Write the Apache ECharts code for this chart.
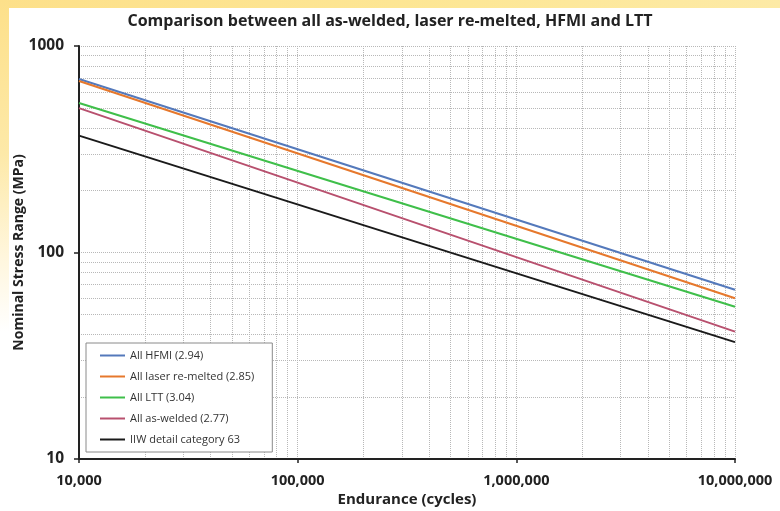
<!DOCTYPE html>
<html><head><meta charset="utf-8">
<script src="https://cdn.jsdelivr.net/npm/echarts@6/dist/echarts.min.js"></script>
<style>
html,body{margin:0;padding:0;background:#fff;}
#wrap{position:relative;width:780px;height:511px;overflow:hidden;background:#fff;}
#topband{position:absolute;left:0;top:0;width:780px;height:8px;background:linear-gradient(to right,#fde08a,#fde796 60%,#fdeaa6);}
#leftband{position:absolute;left:0;top:0;width:9px;height:511px;background:linear-gradient(to bottom,#fde08a 0%,#fde9a8 30%,#fff6dc 50%,#ffffff 65%);}
#chart{position:absolute;left:0;top:0;width:780px;height:511px;}
</style></head>
<body><div id="wrap"><div id="topband"></div><div id="leftband"></div><div id="chart"></div></div>
<script>
const titleText = 'Comparison between all as-welded, laser re-melted, HFMI and LTT';
const seriesNames = ['All HFMI (2.94)', 'All laser re-melted (2.85)', 'All LTT (3.04)', 'All as-welded (2.77)', 'IIW detail category 63'];
const endurance = [10000, 10000000];
const hfmi = [692, 66];
const laserRemelted = [677, 60];
const ltt = [530, 54.6];
const asWelded = [500, 41.4];
const iiw63 = [368, 36.8];
const colors = ['#5479bb', '#e6782c', '#3fbf4a', '#b8506e', '#1a1a1a'];

const seriesValues = [hfmi, laserRemelted, ltt, asWelded, iiw63];
const chart = echarts.init(document.getElementById('chart'), null, {renderer: 'canvas'});
const fontFam = '"Open Sans", "Liberation Sans", sans-serif';
const gridLine = {show: true, lineStyle: {color: '#b8b8b8', type: 'dotted', width: 1}};
chart.setOption({
  backgroundColor: 'transparent',
  animation: false,
  title: {text: titleText, left: 'center', top: 8,
    textStyle: {fontFamily: fontFam, fontSize: 16, fontWeight: 'bold', color: '#222'}},
  grid: {left: 79, right: 45, top: 46, bottom: 52, containLabel: false, outerBoundsMode: 'none'},
  legend: {
    orient: 'vertical', left: 86, top: 343,
    data: seriesNames,
    icon: 'rect', itemWidth: 25, itemHeight: 2, itemGap: 10,
    padding: [7, 18, 7, 14],
    backgroundColor: '#fff', borderColor: '#8a8a8a', borderWidth: 1,
    textStyle: {fontFamily: fontFam, fontSize: 11, color: '#333'}
  },
  xAxis: {
    type: 'log', logBase: 10, min: 10000, max: 10000000,
    name: 'Endurance (cycles)', nameLocation: 'middle', nameGap: 33, nameMoveOverlap: false,
    nameTextStyle: {fontFamily: fontFam, fontSize: 15, fontWeight: 'bold', color: '#222'},
    axisLine: {show: true, onZero: false, lineStyle: {color: '#222', width: 2}},
    axisTick: {show: true, length: 4, lineStyle: {color: '#222', width: 1.5}},
    axisLabel: {fontFamily: fontFam, fontSize: 14.5, fontWeight: 'bold', color: '#222', margin: 14,
      formatter: v => Math.round(v).toLocaleString('en-US')},
    splitLine: gridLine,
    minorTick: {show: false, splitNumber: 9},
    minorSplitLine: gridLine
  },
  yAxis: {
    type: 'log', logBase: 10, min: 10, max: 1000,
    name: 'Nominal Stress Range (MPa)', nameLocation: 'middle', nameGap: 53, nameMoveOverlap: false,
    nameTextStyle: {fontFamily: fontFam, fontSize: 14, fontWeight: 'bold', color: '#222'},
    axisLine: {show: true, onZero: false, lineStyle: {color: '#222', width: 2}},
    axisTick: {show: true, length: 5, lineStyle: {color: '#222', width: 1.5}},
    axisLabel: {fontFamily: fontFam, fontSize: 15.5, fontWeight: 'bold', color: '#222', margin: 15,
      formatter: v => String(Math.round(v))},
    splitLine: gridLine,
    minorTick: {show: false, splitNumber: 9},
    minorSplitLine: gridLine
  },
  series: seriesNames.map((name, i) => ({
    name: name, type: 'line', showSymbol: false, symbol: 'none',
    color: colors[i],
    lineStyle: {width: 2, color: colors[i]},
    data: endurance.map((x, j) => [x, seriesValues[i][j]])
  }))
});
</script></body></html>
